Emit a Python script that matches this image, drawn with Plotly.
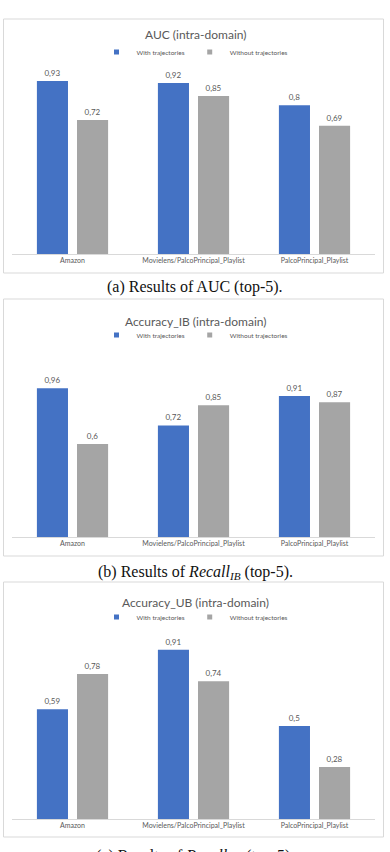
import plotly.graph_objects as go

categories = ["Amazon", "Movielens/PalcoPrincipal_Playlist", "PalcoPrincipal_Playlist"]
series_names = ["With trajectories", "Without trajectories"]
auc_with = [0.93, 0.92, 0.8]
auc_without = [0.72, 0.85, 0.69]
ib_with = [0.96, 0.72, 0.91]
ib_without = [0.6, 0.85, 0.87]
ub_with = [0.59, 0.91, 0.5]
ub_without = [0.78, 0.74, 0.28]
titles = ["AUC (intra-domain)", "Accuracy_IB (intra-domain)", "Accuracy_UB (intra-domain)"]
captions = ["(a) Results of AUC (top-5).",
            "(b) Results of <i>Recall<sub>IB</sub></i> (top-5).",
            "(c) Results of <i>Recall<sub>UB</sub></i> (top-5)."]
y_max = [1.0, 1.2, 1.0]

W, H = 390, 852
BLUE = "#4472C4"
GREY = "#A5A5A5"
TXT = "#595959"
LINE = "#D9D9D9"
SANS = "Lato, Open Sans, sans-serif"

def py(px):
    return 1 - px / H

panels = [
    dict(top=68, bot=254, title=34, legend=52, btop=19, bbot=273, cap=287),
    dict(top=351, bot=537, title=321, legend=335, btop=299, bbot=556, cap=572),
    dict(top=633, bot=819, title=602, legend=617, btop=582, bbot=837, cap=856),
]
data = [(auc_with, auc_without), (ib_with, ib_without), (ub_with, ub_without)]

fig = go.Figure()
layout = dict(width=W, height=H, margin=dict(l=0, r=0, t=0, b=0),
              paper_bgcolor="white", plot_bgcolor="white",
              barmode="group", bargap=0.337, bargroupgap=0.225,
              font=dict(family=SANS, color=TXT),
              annotations=[], shapes=[])

def fmt(v):
    return f"{v:g}".replace(".", ",")

for i, (p, (w, wo)) in enumerate(zip(panels, data)):
    k = "" if i == 0 else str(i + 1)
    leg = "legend" if i == 0 else f"legend{i + 1}"
    for vals, name, col in [(w, series_names[0], BLUE), (wo, series_names[1], GREY)]:
        fig.add_trace(go.Bar(
            x=categories, y=vals, name=name, marker_color=col, marker_line_width=0,
            text=[fmt(v) for v in vals], textposition="outside",
            textfont=dict(size=8, color=TXT, family=SANS), cliponaxis=False,
            xaxis="x" + k, yaxis="y" + k, showlegend=False,
        ))
        # legend entry with a small square swatch
        fig.add_trace(go.Scatter(
            x=[None], y=[None], mode="markers", name=name,
            marker=dict(symbol="square", size=5, color=col),
            xaxis="x" + k, yaxis="y" + k, legend=leg, showlegend=True,
        ))
    layout["xaxis" + k] = dict(domain=[12 / W, 375 / W], anchor="y" + k,
                                showline=True, linecolor=LINE, linewidth=1,
                                ticks="", tickfont=dict(size=7, color=TXT, family=SANS),
                                showgrid=False, fixedrange=True)
    layout["yaxis" + k] = dict(domain=[py(p["bot"]), py(p["top"])], anchor="x" + k,
                                range=[0, y_max[i]], visible=False, showgrid=False)
    layout[leg] = dict(orientation="h", x=0.5, xanchor="center", y=py(p["legend"]),
                        yanchor="middle", font=dict(size=6.5, color=TXT, family=SANS),
                        itemwidth=30, bgcolor="rgba(0,0,0,0)", traceorder="normal",
                        itemclick=False, tracegroupgap=0)
    layout["annotations"].append(dict(text=titles[i], x=0.5, y=py(p["title"]), xref="paper",
                                      yref="paper", showarrow=False, yanchor="middle",
                                      font=dict(size=12, color=TXT, family=SANS)))
    layout["annotations"].append(dict(text=captions[i], x=0.5, y=py(p["cap"]), xref="paper",
                                      yref="paper", showarrow=False, yanchor="middle",
                                      font=dict(size=16, color="#111111",
                                                family="Liberation Serif, serif")))
    layout["shapes"].append(dict(type="rect", xref="paper", yref="paper",
                                 x0=3.5 / W, x1=383.5 / W, y0=py(p["bbot"]), y1=py(p["btop"]),
                                 line=dict(color=LINE, width=1)))

fig.update_layout(**layout)
fig.write_html("out.html")
